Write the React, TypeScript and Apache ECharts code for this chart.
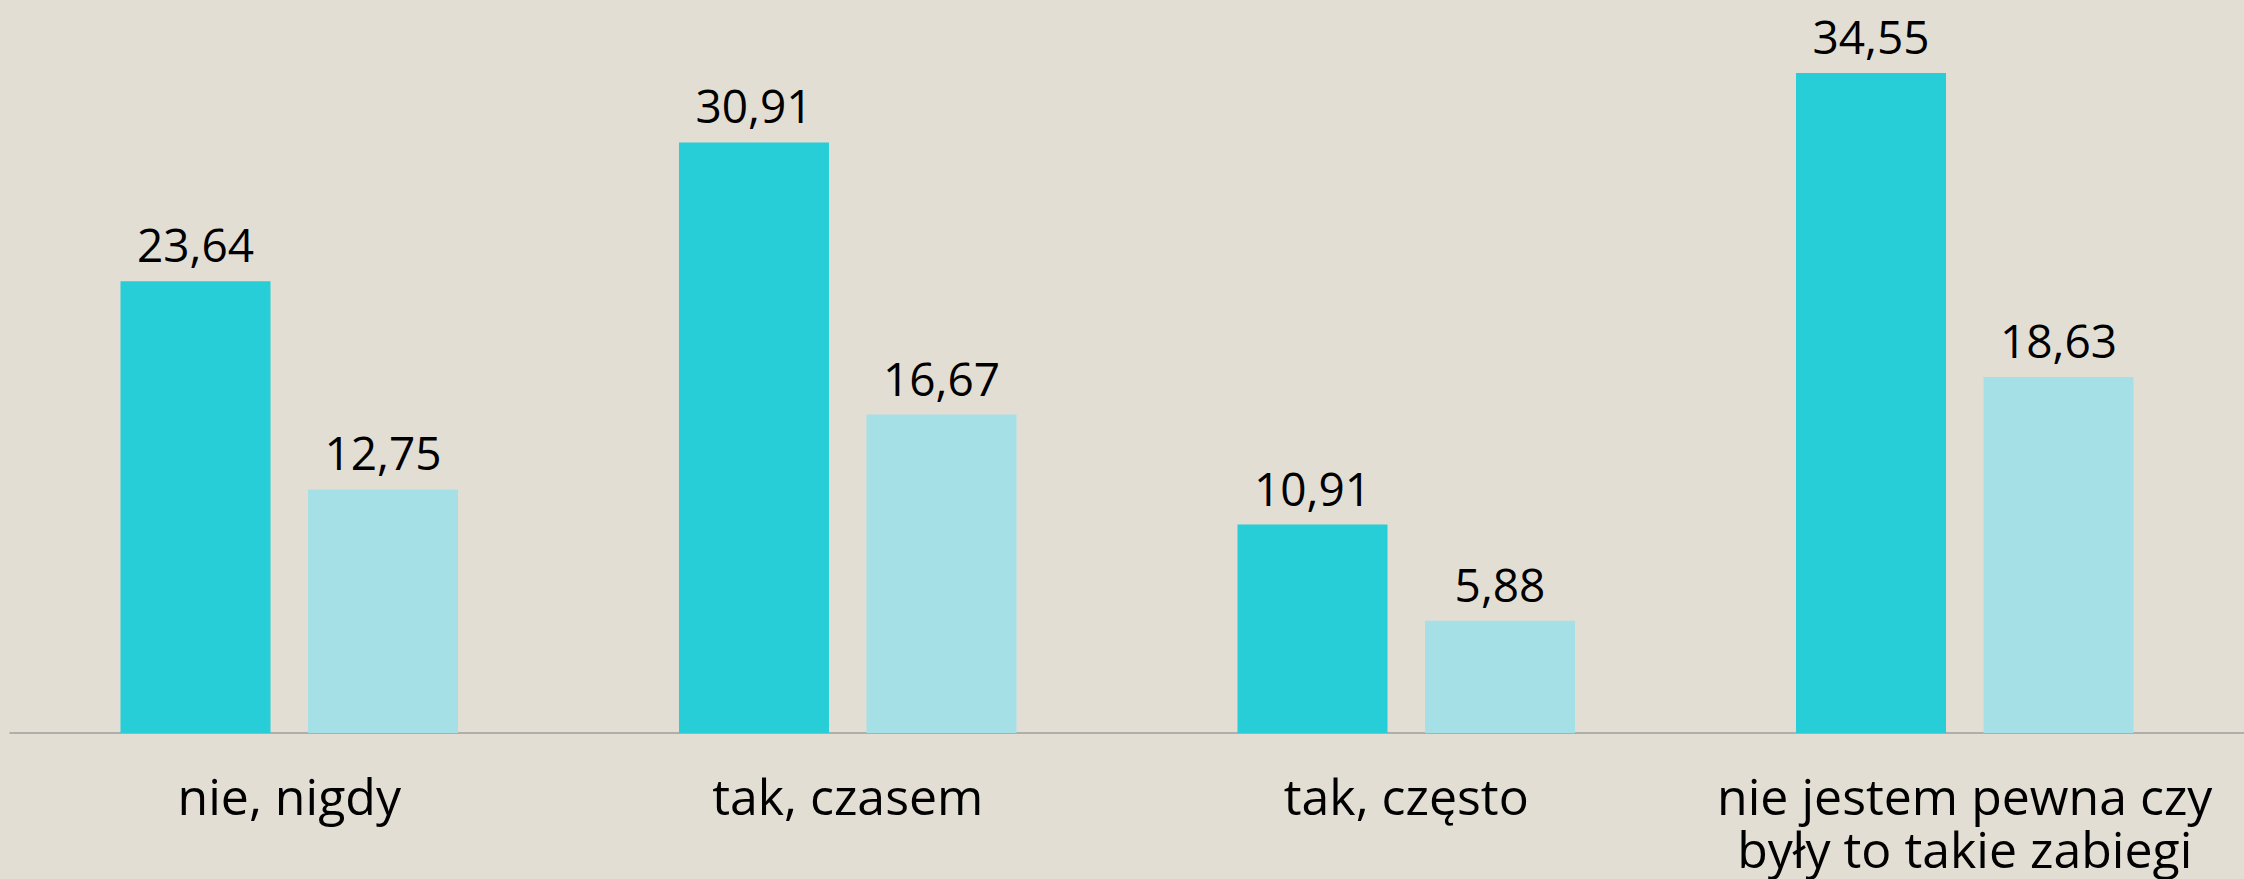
import React, { useEffect, useRef } from "react";
import * as echarts from "echarts";

const categories = [
  "nie, nigdy",
  "tak, czasem",
  "tak, często",
  "nie jestem pewna czy\nbyły to takie zabiegi",
];
const seriesA = [23.64, 30.91, 10.91, 34.55];
const seriesB = [12.75, 16.67, 5.88, 18.63];
const seriesNames = ["Seria 1", "Seria 2"];

const FONT = "'Open Sans', 'DejaVu Sans', sans-serif";

export default function App() {
  const ref = useRef<HTMLDivElement>(null);
  useEffect(() => {
    if (!ref.current) return;
    const chart = echarts.init(ref.current, undefined, { renderer: "svg" });
    const fmt = (p: any) => Number(p.value).toFixed(2).replace(".", ",");
    const labelCfg = {
      show: true,
      position: "top" as const,
      distance: 14,
      formatter: fmt,
      color: "#000000",
      fontSize: 46,
      fontFamily: FONT,
    };
    chart.setOption({
      animation: false,
      backgroundColor: "#E3DED3",
      grid: { left: 10, right: 0, top: 7, bottom: 146, containLabel: false },
      xAxis: {
        type: "category",
        data: categories,
        axisLine: { show: true, lineStyle: { color: "#9E9E9E", width: 1.5 } },
        axisTick: { show: false },
        axisLabel: {
          color: "#000000",
          fontSize: 50,
          lineHeight: 53,
          fontFamily: FONT,
          margin: 36,
          interval: 0,
        },
      },
      yAxis: {
        type: "value",
        min: 0,
        max: 38,
        show: false,
        splitLine: { show: false },
      },
      series: [
        {
          name: seriesNames[0],
          type: "bar",
          data: seriesA,
          barWidth: 150,
          barGap: "25%",
          itemStyle: { color: "#27CED7" },
          label: labelCfg,
        },
        {
          name: seriesNames[1],
          type: "bar",
          data: seriesB,
          barWidth: 150,
          barGap: "25%",
          itemStyle: { color: "#A5E0E7" },
          label: labelCfg,
        },
      ],
    });
    return () => chart.dispose();
  }, []);
  return (
    <div
      ref={ref}
      style={{ position: "fixed", left: 0, top: 0, width: 2244, height: 879, background: "#E3DED3" }}
    />
  );
}
